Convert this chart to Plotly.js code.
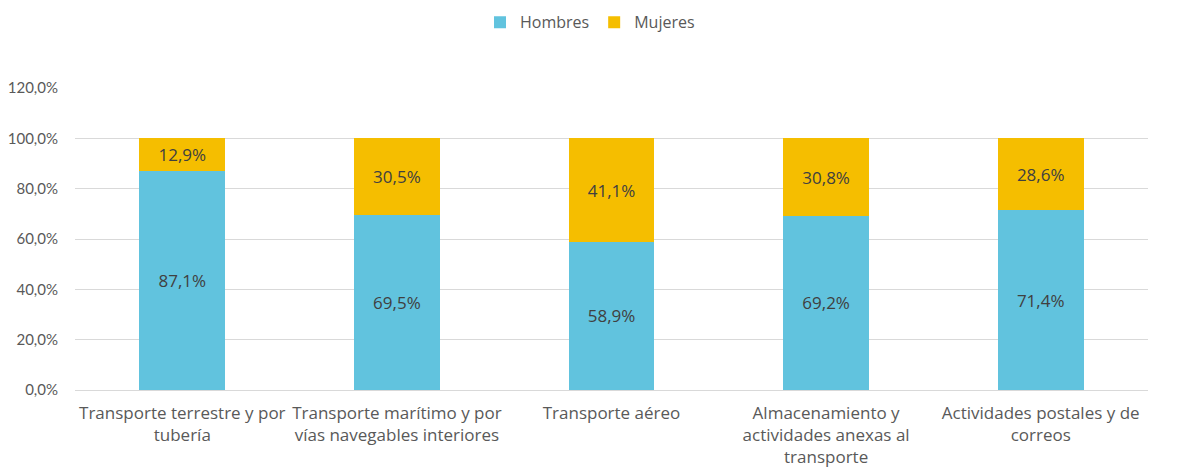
<!DOCTYPE html>
<html>
<head>
<meta charset="utf-8">
<script src="https://cdn.plot.ly/plotly-3.0.1.min.js"></script>
<style>
  html, body { margin: 0; padding: 0; background: #fff; }
  #chart { width: 1180px; height: 475px; }
</style>
</head>
<body>
<div id="chart"></div>
<script>
var categories = [
  'Transporte terrestre y por<br>tubería',
  'Transporte marítimo y por<br>vías navegables interiores',
  'Transporte aéreo',
  'Almacenamiento y<br>actividades anexas al<br>transporte',
  'Actividades postales y de<br>correos'
];
var hombres = [87.1, 69.5, 58.9, 69.2, 71.4];
var mujeres = [12.9, 30.5, 41.1, 30.8, 28.6];
var yTicks = [0, 20, 40, 60, 80, 100, 120];

function pct(v) { return v.toFixed(1).replace('.', ',') + '%'; }

var font = "'Open Sans', Lato, sans-serif";
var tickFont = "Lato, 'Open Sans', sans-serif";

var data = [
  {
    x: categories, y: hombres, name: 'Hombres', type: 'bar',
    marker: {color: '#61C3DE'},
    text: hombres.map(pct), textposition: 'inside', insidetextanchor: 'middle',
    textfont: {color: '#404040', size: 17, family: font},
    hoverinfo: 'none'
  },
  {
    x: categories, y: mujeres, name: 'Mujeres', type: 'bar',
    marker: {color: '#F5BE00'},
    text: mujeres.map(pct), textposition: 'inside', insidetextanchor: 'middle',
    textfont: {color: '#404040', size: 17, family: font},
    hoverinfo: 'none'
  }
];

var layout = {
  width: 1180, height: 475,
  barmode: 'stack',
  bargap: 0.6,
  margin: {l: 75, r: 32, t: 88, b: 85},
  font: {family: font, color: '#595959', size: 16},
  paper_bgcolor: '#fff', plot_bgcolor: '#fff',
  showlegend: true,
  legend: {orientation: 'h', traceorder: 'normal',
           x: 0.5, xref: 'container', xanchor: 'center',
           y: 0.953, yref: 'container', yanchor: 'middle',
           font: {size: 16, color: '#595959'}, itemwidth: 30},
  xaxis: {tickfont: {size: 17, family: font}, showgrid: false, ticks: '',
          ticklabelstandoff: 11, automargin: false},
  yaxis: {
    range: [0, 120], tickvals: yTicks, ticktext: yTicks.map(pct),
    gridcolor: '#D9D9D9', zeroline: true, zerolinecolor: '#D9D9D9',
    ticks: '', tickfont: {size: 15, family: tickFont}, ticklabelstandoff: 16,
    automargin: false
  }
};

Plotly.newPlot('chart', data, layout, {displayModeBar: false, staticPlot: true});
</script>
</body>
</html>
